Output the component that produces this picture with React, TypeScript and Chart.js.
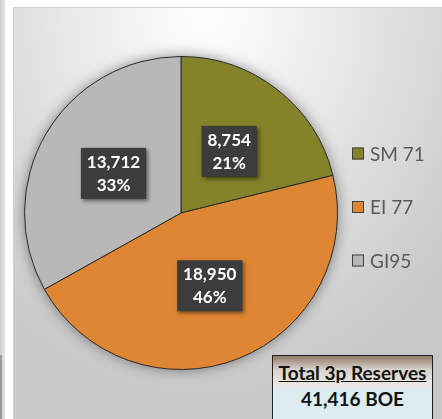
import React, { useEffect, useRef } from 'react';
import { Chart, registerables } from 'chart.js';

Chart.register(...registerables);

const categories = ['SM 71', 'EI 77', 'GI95'];
const reserves = [8754, 18950, 13712];
const sliceColors = ['#84832A', '#DE8633', '#B8B8B8'];
const totalTitle = 'Total 3p Reserves';
const totalValue = '41,416 BOE';

const FONT = 'Lato, "Open Sans", sans-serif';

const shadowPlugin = {
  id: 'pieShadow',
  beforeDatasetsDraw(chart: any) {
    const arc = chart.getDatasetMeta(0).data[0];
    if (!arc) return;
    const ctx = chart.ctx;
    ctx.save();
    ctx.shadowColor = 'rgba(0,0,0,0.45)';
    ctx.shadowBlur = 14;
    ctx.beginPath();
    ctx.arc(arc.x, arc.y, arc.outerRadius, 0, Math.PI * 2);
    ctx.fillStyle = '#999';
    ctx.fill();
    ctx.restore();
  },
};

const labelPlugin = {
  id: 'sliceLabels',
  afterDatasetsDraw(chart: any) {
    const ctx = chart.ctx;
    const data = chart.data.datasets[0].data as number[];
    const sum = data.reduce((a, b) => a + b, 0);
    const meta = chart.getDatasetMeta(0);
    meta.data.forEach((arc: any, i: number) => {
      const p = arc.tooltipPosition();
      const l1 = data[i].toLocaleString('en-US');
      const l2 = Math.round((data[i] / sum) * 100) + '%';
      ctx.save();
      ctx.font = `bold 17px ${FONT}`;
      const w = Math.max(ctx.measureText(l1).width, ctx.measureText(l2).width) + 12;
      const h = 51;
      ctx.shadowColor = 'rgba(0,0,0,0.5)';
      ctx.shadowBlur = 4;
      ctx.shadowOffsetX = 2;
      ctx.shadowOffsetY = 2;
      ctx.fillStyle = '#3c3c3c';
      ctx.fillRect(p.x - w / 2, p.y - h / 2, w, h);
      ctx.shadowColor = 'transparent';
      ctx.fillStyle = '#ffffff';
      ctx.textAlign = 'center';
      ctx.textBaseline = 'middle';
      ctx.fillText(l1, p.x, p.y - 11);
      ctx.fillText(l2, p.x, p.y + 12);
      ctx.restore();
    });
  },
};

const legendPlugin = {
  id: 'sideLegend',
  afterDraw(chart: any) {
    const ctx = chart.ctx;
    const labels = chart.data.labels as string[];
    const colors = chart.data.datasets[0].backgroundColor as string[];
    const x0 = chart.chartArea.right + 14;
    const yCenter = chart.chartArea.top + (chart.chartArea.bottom - chart.chartArea.top) / 2 - 6;
    const gap = 53.5;
    labels.forEach((lab, i) => {
      const y = yCenter + (i - 1) * gap;
      ctx.save();
      ctx.fillStyle = colors[i];
      ctx.fillRect(x0, y - 6, 12, 12);
      ctx.strokeStyle = '#404040';
      ctx.lineWidth = 1;
      ctx.strokeRect(x0 + 0.5, y - 5.5, 11, 11);
      ctx.fillStyle = '#595959';
      ctx.font = `19px ${FONT}`;
      ctx.textBaseline = 'middle';
      ctx.textAlign = 'left';
      ctx.fillText(lab, x0 + 18, y + 1);
      ctx.restore();
    });
  },
};

function PieChart() {
  const ref = useRef<HTMLCanvasElement | null>(null);
  useEffect(() => {
    if (!ref.current) return;
    const chart = new Chart(ref.current, {
      type: 'pie',
      data: {
        labels: categories,
        datasets: [
          {
            data: reserves,
            backgroundColor: sliceColors,
            borderColor: '#2a2a2a',
            borderWidth: 1,
          },
        ],
      },
      options: {
        responsive: false,
        animation: false,
        layout: { padding: { left: 11, right: 104, top: 49, bottom: 49 } },
        plugins: {
          legend: { display: false },
          tooltip: { enabled: false },
        },
      },
      plugins: [shadowPlugin, labelPlugin, legendPlugin],
    });
    return () => chart.destroy();
  }, []);
  return <canvas ref={ref} width={429} height={412} style={{ display: 'block' }} />;
}

export default function App() {
  return (
    <div
      style={{
        position: 'fixed',
        left: 0,
        top: 0,
        width: 442,
        height: 419,
        background: '#ffffff',
        overflow: 'hidden',
        fontFamily: FONT,
      }}
    >
      <div
        style={{
          position: 'absolute',
          left: 0,
          top: 0,
          width: 5,
          height: 419,
          background: 'linear-gradient(to right, #cfcfcf, #e4e4e4)',
        }}
      />
      <div
        style={{
          position: 'absolute',
          left: 0,
          top: 355,
          width: 2,
          height: 64,
          background: '#9a9a9a',
        }}
      />
      <div
        style={{
          position: 'absolute',
          left: 13,
          top: 7,
          width: 429,
          height: 412,
          boxSizing: 'border-box',
          borderTop: '1px solid #d4d4d4',
          borderLeft: '1px solid #d4d4d4',
          background:
            'radial-gradient(ellipse 75% 95% at 45% 0%, #ffffff 0%, #f0f0f0 30%, #dcdcdc 65%, #c8c8c8 100%)',
        }}
      />
      <div style={{ position: 'absolute', left: 13, top: 7 }}>
        <PieChart />
      </div>
      <div
        style={{
          position: 'absolute',
          left: 272,
          top: 355,
          width: 161,
          height: 70,
          boxSizing: 'border-box',
          border: '1px solid #222',
          background: 'linear-gradient(to bottom, #8e7b69 0%, #d9d2cb 20%, #ece9e6 45%, #dcecf0 48%, #dcecf0 100%)',
          textAlign: 'center',
          fontWeight: 'bold',
          fontSize: 19,
          color: '#111',
          whiteSpace: 'nowrap',
        }}
      >
        <div style={{ textDecoration: 'underline', marginTop: 5, lineHeight: '23px' }}>{totalTitle}</div>
        <div style={{ marginTop: 3, lineHeight: '23px' }}>{totalValue}</div>
      </div>
    </div>
  );
}
